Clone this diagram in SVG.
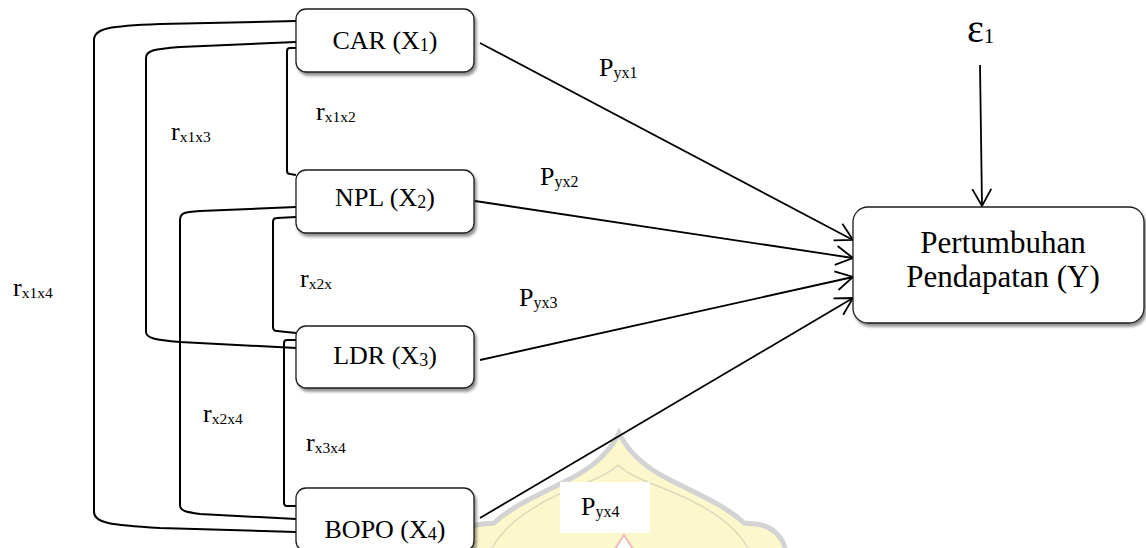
<svg xmlns="http://www.w3.org/2000/svg" width="1146" height="548" viewBox="0 0 1146 548">
  <defs>
    <filter id="shadow" x="-10%" y="-20%" width="125%" height="150%">
      <feGaussianBlur in="SourceAlpha" stdDeviation="1.6"/>
      <feOffset dx="1.5" dy="2.5" result="off"/>
      <feComponentTransfer><feFuncA type="linear" slope="0.45"/></feComponentTransfer>
      <feMerge><feMergeNode/><feMergeNode in="SourceGraphic"/></feMerge>
    </filter>
    <marker id="head" viewBox="-19 -11 21 22" markerWidth="21" markerHeight="22" refX="0" refY="0" orient="auto" markerUnits="userSpaceOnUse">
      <path d="M -17,-9.5 L 0,0 L -17,9.5" fill="none" stroke="#000" stroke-width="1.8" stroke-linejoin="miter"/>
    </marker>
    <style>
      .box { fill: #fff; stroke: #1e1e1e; stroke-width: 1.3; filter: url(#shadow); }
      .t { font-family: "Liberation Serif", "Times New Roman", serif; fill: #000; }
      .lbl { font-size: 26px; }
      .sub { font-size: 18px; }
      .rs { font-size: 15.5px; }
      .ps { font-size: 16px; }
      .big { font-size: 31px; }
      .corr { fill: none; stroke: #000; stroke-width: 2; stroke-linejoin: round; }
      .path { fill: none; stroke: #000; stroke-width: 1.8; marker-end: url(#head); }
    </style>
  </defs>

  <rect width="1146" height="548" fill="#fff"/>

  <!-- faint emblem in the background -->
  <g id="emblem">
    <path d="M 452,552 C 455,536 466,526 482,524 L 494,523 C 512,506 540,494 568,480 C 592,468 610,452 619,433 C 628,452 646,468 670,480 C 698,494 726,506 744,523 L 756,524 C 772,526 783,536 786,552 Z" fill="#fcf8cc" stroke="#d3d3d3" stroke-width="5"/>
    <path d="M 490,552 C 500,532 515,518 547,500 C 575,486 605,478 618,465 C 631,478 661,486 690,500 C 722,516 740,532 750,552" fill="none" stroke="#dcd9bc" stroke-width="1.5"/>
    <polygon points="624,535 615,549 633,549" fill="#fff" stroke="#f2b8b8" stroke-width="2"/>
  </g>

  <!-- correlation brackets and path arrows -->
  <g id="connectors">
    <path class="corr" d="M 296,21 L 160,24 C 110,26 94,28 94,40 L 94,512 C 94,523 110,525 160,528 L 296,532"/>
    <path class="corr" d="M 296,42 L 180,47 C 155,49 146,50 146,58 L 146,332 C 146,338 155,340 180,342 L 296,348"/>
    <path class="corr" d="M 296,48 L 290,48 Q 287,48 287,51 L 287,171 Q 287,174 290,174 L 296,175"/>
    <path class="corr" d="M 296,207 L 200,211 C 184,212 180,213 180,220 L 180,505 C 180,511 186,512 200,514 L 296,519"/>
    <path class="corr" d="M 296,217 L 277,218 Q 273,218 273,222 L 273,327 Q 273,331 277,331 L 296,333"/>
    <path class="corr" d="M 296,340 L 287,340 Q 284,340 284,343 L 284,503 Q 284,506 287,506 L 296,506"/>

    <line class="path" x1="480" y1="43" x2="853" y2="240"/>
    <line class="path" x1="475" y1="201" x2="853" y2="258"/>
    <line class="path" x1="480" y1="360" x2="853" y2="277"/>
    <line class="path" x1="480" y1="518" x2="853" y2="298"/>
    <line class="path" x1="980" y1="65" x2="982" y2="206"/>
  </g>

  <!-- coefficient labels -->
  <g id="labels">
    <text class="t lbl" x="316" y="120">r<tspan class="rs" dy="2">x1x2</tspan></text>
    <text class="t lbl" x="171" y="140">r<tspan class="rs" dy="2">x1x3</tspan></text>
    <text class="t lbl" x="300" y="287">r<tspan class="rs" dy="2">x2x</tspan></text>
    <text class="t lbl" x="203" y="422">r<tspan class="rs" dy="2">x2x4</tspan></text>
    <text class="t lbl" x="306" y="451">r<tspan class="rs" dy="2">x3x4</tspan></text>
    <text class="t lbl" x="13" y="296">r<tspan class="rs" dy="2">x1x4</tspan></text>

    <text class="t lbl" x="599" y="76">P<tspan class="ps" dy="2">yx1</tspan></text>
    <text class="t lbl" x="540" y="185">P<tspan class="ps" dy="2">yx2</tspan></text>
    <text class="t lbl" x="519" y="306">P<tspan class="ps" dy="2">yx3</tspan></text>
    <rect x="560" y="482" width="90" height="51" fill="#fff"/>
    <text class="t lbl" x="581" y="515">P<tspan class="ps" dy="2">yx4</tspan></text>

    <text class="t" x="967" y="42"><tspan font-size="40">ε</tspan><tspan font-size="21" dy="1">1</tspan></text>
  </g>

  <g id="car">
    <rect class="box" x="296" y="9" width="178" height="63" rx="10"/>
    <text class="t lbl" x="385" y="49" text-anchor="middle">CAR (X<tspan class="sub" dy="2">1</tspan><tspan dy="-2">)</tspan></text>
  </g>
  <g id="npl">
    <rect class="box" x="296" y="170" width="178" height="63" rx="10"/>
    <text class="t lbl" x="385" y="206" text-anchor="middle">NPL (X<tspan class="sub" dy="2">2</tspan><tspan dy="-2">)</tspan></text>
  </g>
  <g id="ldr">
    <rect class="box" x="296" y="326" width="178" height="62" rx="10"/>
    <text class="t lbl" x="385" y="364" text-anchor="middle">LDR (X<tspan class="sub" dy="2">3</tspan><tspan dy="-2">)</tspan></text>
  </g>
  <g id="bopo">
    <rect class="box" x="296" y="488" width="178" height="63" rx="10"/>
    <text class="t lbl" x="385" y="538" text-anchor="middle">BOPO (X<tspan class="sub" dy="2">4</tspan><tspan dy="-2">)</tspan></text>
  </g>
  <g id="y">
    <rect class="box" x="853" y="207" width="291" height="116" rx="15"/>
    <text class="t big" x="1003" y="253" text-anchor="middle">Pertumbuhan</text>
    <text class="t big" x="1003" y="287" text-anchor="middle">Pendapatan (Y)</text>
  </g>
</svg>
